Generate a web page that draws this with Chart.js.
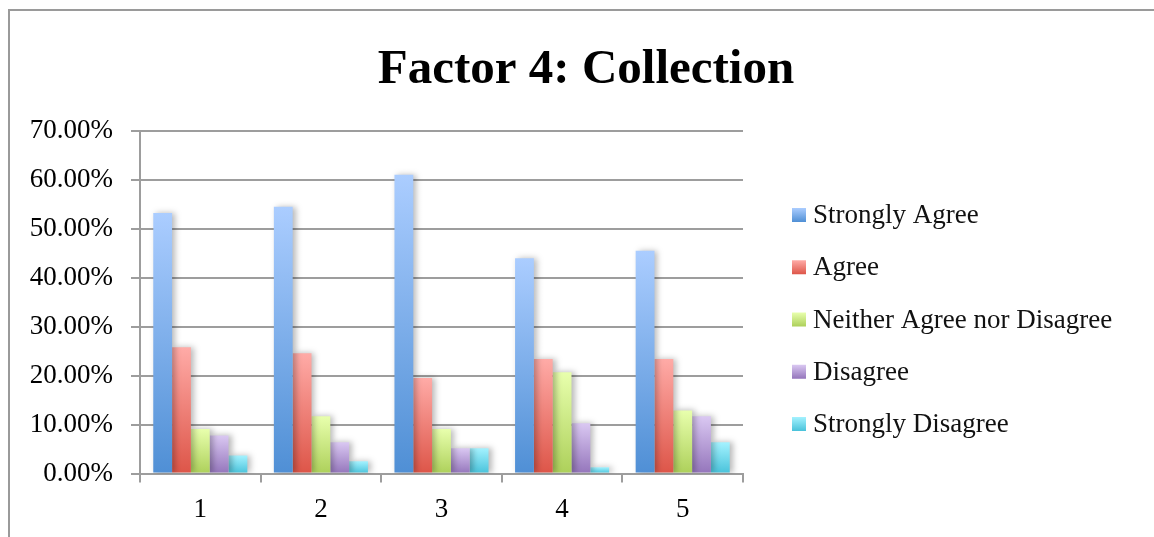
<!DOCTYPE html>
<html>
<head>
<meta charset="utf-8">
<title>Factor 4: Collection</title>
<script src="https://cdn.jsdelivr.net/npm/chart.js@4.4.1/dist/chart.umd.min.js"></script>
<style>
  html, body { margin: 0; padding: 0; background: #ffffff; }
  #wrap { width: 1154px; height: 537px; position: relative; }
  canvas { display: block; }
</style>
</head>
<body>
<div id="wrap"><canvas id="chart" width="1154" height="537"></canvas></div>
<script>
// Question groups along the x axis
const categories = ['1', '2', '3', '4', '5'];

// Response categories (series)
const seriesNames = ['Strongly Agree', 'Agree', 'Neither Agree nor Disagree', 'Disagree', 'Strongly Disagree'];

// Share of responses, in percent
const stronglyAgree    = [53.2, 54.5, 61.0, 44.0, 45.5];
const agree            = [25.8, 24.6, 19.5, 23.4, 23.4];
const neitherAgree     = [9.1, 11.7, 9.1, 20.7, 12.9];
const disagree         = [7.8, 6.4, 5.2, 10.3, 11.7];
const stronglyDisagree = [3.7, 2.5, 5.2, 1.3, 6.4];

// Value axis ticks
const yTickValues = [0, 10, 20, 30, 40, 50, 60, 70];

// Light (top) and dark (bottom) ends of each series' gradient
const seriesTop    = ['#abcdff', '#ffaba7', '#e8ffad', '#dac8f2', '#a4f2ff'];
const seriesBottom = ['#4f8fd5', '#dd5548', '#add05a', '#9475bb', '#48c2da'];

const seriesValues = [stronglyAgree, agree, neitherAgree, disagree, stronglyDisagree];

const FONT = '"Liberation Serif", "Times New Roman", serif';
const GRID = '#9d9d9d';
const LABEL_SIZE = 27;

// Vertical gradient spanning each bar from its top down to the zero line
function barFill(i) {
  return (ctx) => {
    const chart = ctx.chart;
    if (!chart.chartArea || ctx.type !== 'data' || !ctx.parsed) return seriesBottom[i];
    const ys = chart.scales.y;
    const yTop = ys.getPixelForValue(ctx.parsed.y);
    const yBase = ys.getPixelForValue(0);
    if (!isFinite(yTop) || !isFinite(yBase) || yBase - yTop < 1) return seriesBottom[i];
    const g = chart.ctx.createLinearGradient(0, yTop, 0, yBase);
    g.addColorStop(0, seriesTop[i]);
    g.addColorStop(1, seriesBottom[i]);
    return g;
  };
}

const datasets = seriesNames.map((name, i) => ({
  label: name,
  data: seriesValues[i],
  backgroundColor: barFill(i),
  borderWidth: 0,
  categoryPercentage: 0.78,
  barPercentage: 1.0
}));

// Outer frame (top and left edges)
const frame = {
  id: 'frame',
  beforeDraw(chart) {
    const c = chart.ctx;
    c.save();
    c.fillStyle = '#ffffff';
    c.fillRect(0, 0, chart.width, chart.height);
    c.strokeStyle = '#9a9a9a';
    c.lineWidth = 2;
    c.beginPath();
    c.moveTo(9, chart.height);
    c.lineTo(9, 10);
    c.lineTo(chart.width, 10);
    c.stroke();
    c.restore();
  }
};

// Soft shadow to the right of every bar
const barShadow = {
  id: 'barShadow',
  beforeDatasetsDraw(chart) {
    const c = chart.ctx;
    c.save();
    c.shadowColor = 'rgba(0,0,0,0.28)';
    c.shadowBlur = 6;
    c.shadowOffsetX = 3;
    c.shadowOffsetY = 0;
  },
  afterDatasetsDraw(chart) {
    chart.ctx.restore();
  }
};

// Legend column on the right
const sideLegend = {
  id: 'sideLegend',
  afterDraw(chart, args, opts) {
    const c = chart.ctx;
    c.save();
    c.font = opts.fontSize + 'px ' + FONT;
    c.textBaseline = 'middle';
    c.textAlign = 'left';
    chart.data.datasets.forEach((ds, i) => {
      const top = opts.top + i * opts.step;
      const g = c.createLinearGradient(0, top, 0, top + opts.box);
      g.addColorStop(0, seriesTop[i]);
      g.addColorStop(1, seriesBottom[i]);
      c.fillStyle = g;
      c.fillRect(opts.x, top, opts.box, opts.box);
      c.fillStyle = '#111111';
      c.fillText(ds.label, opts.textX, top + opts.box / 2 + 1);
    });
    c.restore();
  }
};

new Chart(document.getElementById('chart'), {
  type: 'bar',
  data: { labels: categories, datasets },
  plugins: [frame, barShadow, sideLegend],
  options: {
    responsive: false,
    animation: false,
    devicePixelRatio: 1,
    layout: { padding: { left: 18, right: 0, top: 10, bottom: 0 } },
    plugins: {
      legend: { display: false },
      tooltip: { enabled: false },
      title: {
        display: true,
        text: 'Factor 4: Collection',
        color: '#000000',
        font: { family: FONT, size: 49, weight: 'bold', lineHeight: 1.2 },
        padding: { top: 31, bottom: 31 }
      },
      sideLegend: { x: 792, textX: 813, top: 208, step: 52.25, box: 14, fontSize: LABEL_SIZE }
    },
    scales: {
      x: {
        grid: { display: true, drawOnChartArea: false, drawTicks: true, tickLength: 9, color: GRID, lineWidth: 2 },
        border: { display: true, color: GRID, width: 2 },
        ticks: { color: '#000000', padding: 11, font: { family: FONT, size: LABEL_SIZE } }
      },
      y: {
        min: 0,
        max: 70,
        afterBuildTicks(scale) { scale.ticks = yTickValues.map(v => ({ value: v })); },
        afterFit(scale) { scale.width = 122; },
        grid: { color: GRID, lineWidth: 2, tickLength: 9, drawTicks: true },
        border: { display: true, color: GRID, width: 2 },
        ticks: {
          color: '#000000',
          padding: 18,
          font: { family: FONT, size: LABEL_SIZE },
          callback: (v) => Number(v).toFixed(2) + '%'
        }
      },
      legendSpace: {
        type: 'linear',
        position: 'right',
        display: true,
        grid: { display: false },
        border: { display: false },
        ticks: { display: false },
        afterFit(scale) { scale.width = 411; }
      }
    }
  }
});
</script>
</body>
</html>
